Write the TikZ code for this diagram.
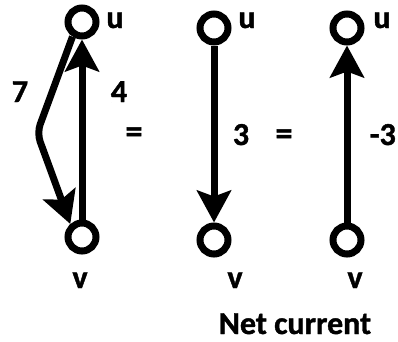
\documentclass[tikz,border=0pt]{standalone}
\usepackage{fontspec}
\setmainfont[BoldFeatures={FakeBold=1.2}]{Carlito}
\usetikzlibrary{arrows.meta}
\tikzset{
  vtx/.style={circle, draw, line width=7pt, minimum size=28pt, inner sep=0pt, outer sep=3.5pt},
  flow/.style={line width=7pt, -{Stealth[length=32pt, width=34pt, inset=6pt]}},
  lbl/.style={font=\fontsize{32}{32}\selectfont\bfseries, inner sep=0pt, anchor=base},
  eqs/.style={font=\fontsize{34}{34}\selectfont\bfseries, inner sep=0pt}
}
\begin{document}
\begin{tikzpicture}[x=1pt, y=-1pt]
  \useasboundingbox (0,0) rectangle (398,341);

  % vertices
  \node[vtx] (u1) at (82,22) {};
  \node[vtx] (v1) at (82,237) {};
  \node[vtx] (u2) at (214,28) {};
  \node[vtx] (v2) at (214,240) {};
  \node[vtx] (u3) at (347,28) {};
  \node[vtx] (v3) at (347,240) {};

  % vertex names
  \node[lbl] (lu1) at (115,28) {u};
  \node[lbl] (lv1) at (80,288) {v};
  \node[lbl] (lu2) at (247,28) {u};
  \node[lbl] (lv2) at (235,288) {v};
  \node[lbl] (lu3) at (382,28) {u};
  \node[lbl] (lv3) at (355,288) {v};

  % two opposite currents
  \coordinate (bend) at (37,133);
  \draw[flow, rounded corners=9pt] (u1.237) -- (bend) -- (v1.132);
  \draw[flow] (v1) -- (u1);
  \node[lbl] (c7) at (20,102) {7};
  \node[lbl] (c4) at (119,102) {4};
  \node[eqs] (eq1) at (134,135) {=};

  % net current u -> v
  \draw[flow] (u2) -- (v2);
  \node[lbl] (c3) at (241,145) {3};
  \node[eqs] (eq2) at (284,137) {=};

  % net current v -> u
  \draw[flow] (v3) -- (u3);
  \node[lbl, anchor=base east] (cm3) at (396,145) {-3};

  \node[lbl] (cap) at (295,334) {Net current};
\end{tikzpicture}
\end{document}
